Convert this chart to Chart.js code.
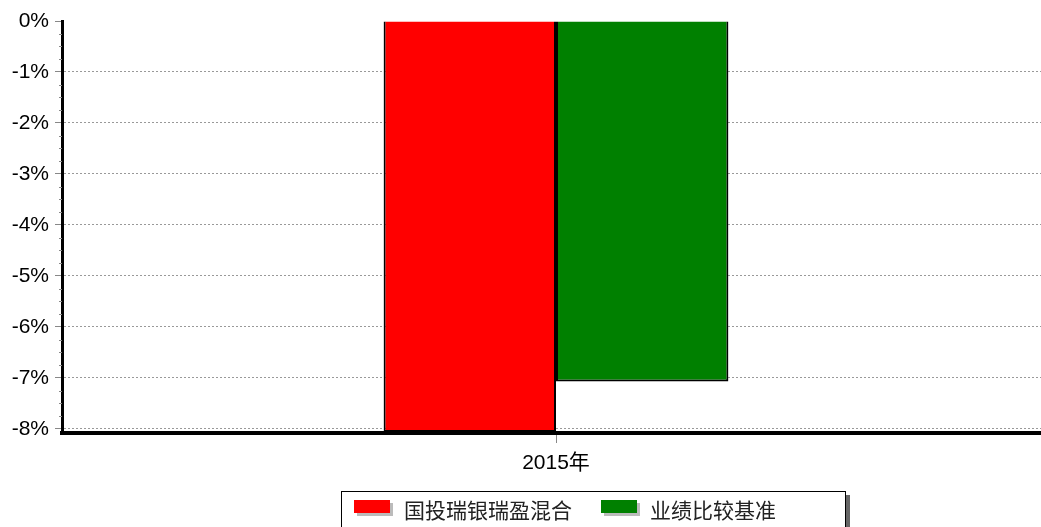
<!DOCTYPE html>
<html>
<head>
<meta charset="utf-8">
<script src="https://cdn.jsdelivr.net/npm/chart.js@4/dist/chart.umd.min.js"></script>
<style>
  html, body { margin: 0; padding: 0; background: #fff; }
  #wrap { position: relative; width: 1041px; height: 527px; overflow: hidden; }
  #c { position: absolute; left: 0; top: 0; }
  #legend {
    position: absolute; left: 341px; top: 491px; width: 503px; height: 50px;
    border: 1px solid #000; box-shadow: 4px 4px 0 #666; background: #fff;
    font-family: "Noto Sans CJK SC", sans-serif; font-size: 21px; color: #222;
  }
  .item { position: absolute; top: 4px; line-height: 26px; }
  .sw { position: absolute; top: 8px; width: 36px; height: 13px; box-shadow: 3px 3px 0 #bbb; }
</style>
</head>
<body>
<div id="wrap">
  <canvas id="c" width="1050" height="527"></canvas>
  <div id="legend"></div>
</div>
<script>
// 数据
const categories = ['2015年'];
const seriesNames = ['国投瑞银瑞盈混合', '业绩比较基准'];
const seriesColors = ['#ff0000', '#008000'];
const fundValues = [-8.06];
const benchValues = [-7.07];
const yTicks = [0, -1, -2, -3, -4, -5, -6, -7, -8];

// 图例
const legend = document.getElementById('legend');
const legendPos = [[12, 62], [259, 308]];
seriesNames.forEach((name, i) => {
  legend.innerHTML += `<div class="sw" style="left:${legendPos[i][0]}px;background:${seriesColors[i]}"></div>` +
    `<div class="item" style="left:${legendPos[i][1]}px">${name}</div>`;
});

// 次刻度
const minorTicks = {
  id: 'minorTicks',
  afterDraw(chart) {
    const y = chart.scales.y, ctx = chart.ctx, left = chart.chartArea.left;
    ctx.save();
    ctx.strokeStyle = '#888';
    ctx.lineWidth = 1;
    for (let v = 0; v >= -8; v -= 0.25) {
      if (Number.isInteger(v)) continue;
      const py = Math.round(y.getPixelForValue(v)) + 0.5;
      ctx.beginPath();
      ctx.moveTo(left - 3, py);
      ctx.lineTo(left, py);
      ctx.stroke();
    }
    ctx.restore();
  }
};

new Chart(document.getElementById('c').getContext('2d'), {
  type: 'bar',
  data: {
    labels: categories,
    datasets: [{
      label: seriesNames[0],
      data: fundValues,
      backgroundColor: seriesColors[0],
      borderColor: '#000',
      borderWidth: 2
    }, {
      label: seriesNames[1],
      data: benchValues,
      backgroundColor: seriesColors[1],
      borderColor: '#000',
      borderWidth: 2
    }]
  },
  options: {
    responsive: false,
    animation: false,
    categoryPercentage: 0.349,
    barPercentage: 1,
    layout: { padding: { top: 21, right: 0, left: 0, bottom: 0 } },
    plugins: { legend: { display: false }, tooltip: { enabled: false } },
    scales: {
      x: {
        grid: {
          offset: false,
          drawOnChartArea: false,
          color: '#888',
          tickLength: 10
        },
        border: { color: '#000', width: 4 },
        ticks: {
          color: '#000',
          padding: 8,
          font: { family: '"Liberation Sans", "Noto Sans CJK SC"', size: 21 }
        },
        afterFit(s) { s.height = 94; }
      },
      y: {
        min: -8.08,
        max: 0,
        afterBuildTicks(s) { s.ticks = yTicks.map(v => ({ value: v })); },
        grid: {
          color: ctx => (ctx.tick && ctx.tick.value === 0) ? 'rgba(0,0,0,0)' : '#999',
          tickColor: '#888',
          tickBorderDash: [],
          tickLength: 7
        },
        border: { color: '#000', width: 3, dash: [2, 2] },
        ticks: {
          color: '#000',
          padding: 6,
          callback: v => v + '%',
          font: { family: '"Liberation Sans"', size: 21 }
        },
        afterFit(s) { s.width = 62; }
      }
    }
  },
  plugins: [minorTicks]
});
</script>
</body>
</html>
